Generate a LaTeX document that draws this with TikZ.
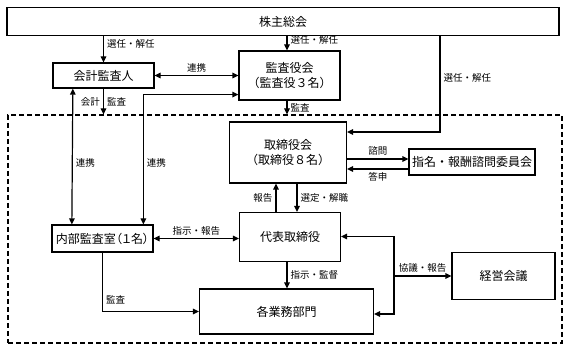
\documentclass[tikz,border=0pt]{standalone}
\usepackage{fontspec}
\setmainfont{Noto Sans CJK JP}
\newfontfamily\propjp[RawFeature=+palt]{Noto Sans CJK JP}
\usepackage{tikz}
\usetikzlibrary{arrows.meta,positioning,calc}
\tikzset{
  orgbox/.style={draw, line width=1.2pt, font=\fontsize{12}{14.5}\selectfont, align=center, inner sep=2pt},
  thinarrow/.style={-{Triangle[length=6pt,width=5.5pt]}, line width=1.2pt},
  twoarrow/.style={{Triangle[length=6pt,width=5.5pt]}-{Triangle[length=6pt,width=5.5pt]}, line width=1.2pt},
  lbl/.style={font=\fontsize{9.5}{11}\selectfont, inner sep=3pt},
  groupframe/.style={draw, dash pattern=on 5pt off 3pt, line width=1.2pt, inner sep=0pt},
}

\begin{document}
\begin{tikzpicture}[x=1pt, y=-1pt]
  \useasboundingbox (0,0) rectangle (568,350);
  \node[groupframe, minimum width=554pt, minimum height=228pt] (grp) at (285,229) {};

  \node[orgbox, minimum width=552pt, minimum height=28pt] (soukai) at (283,21.5) {株主総会};
  \node[orgbox, minimum width=101pt, minimum height=25pt] (kaikei) at (103.5,75.5) {会計監査人};
  \node[orgbox, minimum width=101pt, minimum height=49pt] (kansayaku) at (289.5,75.5) {監査役会\\（監査役３名）};
  \node[orgbox, minimum width=117pt, minimum height=61pt] (torishimari) at (288,152.5) {取締役会\\（取締役８名）};
  \node[orgbox, minimum width=126pt, minimum height=26pt] (shimei) at (472,162) {指名・報酬諮問委員会};
  \node[orgbox, minimum width=101pt, minimum height=49pt] (daihyo) at (290,237) {代表取締役};
  \node[orgbox, minimum width=101pt, minimum height=27pt] (naibu) at (102.5,238.5) {\propjp 内部監査室（１名）};
  \node[orgbox, minimum width=174pt, minimum height=45pt] (gyomu) at (286.5,311.5) {各業務部門};
  \node[orgbox, minimum width=103pt, minimum height=47pt] (keiei) at (503.5,276) {経営会議};

  \coordinate (senp) at (440,132);
  \coordinate (kyogi) at (394,276);

  \draw[thinarrow] (soukai.south -| kaikei) -- node[lbl, right, pos=0.3] {選任・解任} (kaikei.north);
  \draw[thinarrow] ([xshift=-2.5pt]kansayaku.north |- soukai.south) -- node[lbl, right, pos=0.3] {選任・解任} ([xshift=-2.5pt]kansayaku.north);
  \draw[thinarrow] (soukai.south -| senp) |- node[lbl, right, pos=0.22] {選任・解任} (torishimari.east |- senp);

  \draw[twoarrow] (kaikei.east) -- node[lbl, above] {連携} (kaikei.east -| kansayaku.west);
  \draw[thinarrow] (kaikei.south) -- node[lbl, left] {会計} node[lbl, right] {監査} (kaikei.south |- grp.north);
  \draw[thinarrow] ([xshift=-2.5pt]kansayaku.south) -- node[lbl, right] {監査} ([xshift=-2.5pt]kansayaku.south |- grp.north);

  \draw[twoarrow] ($(kaikei.south west)!0.2!(kaikei.south east)$) -- node[lbl, right, pos=0.55] {連携} ($(naibu.north west)!0.2!(naibu.north east)$);
  \draw[twoarrow] ($(naibu.north west)!0.9!(naibu.north east)$) |- node[lbl, right, pos=0.235] {連携} ([yshift=6pt]kansayaku.south west);

  \draw[thinarrow] ([yshift=-6.5pt]torishimari.east) -- node[lbl, above] {諮問} ([yshift=-6.5pt]torishimari.east -| shimei.west);
  \draw[thinarrow] ([yshift=-16.5pt]torishimari.east -| shimei.west) -- node[lbl, below] {答申} ([yshift=-16.5pt]torishimari.east);

  \draw[thinarrow] ([xshift=-14pt]daihyo.north) -- node[lbl, left] {報告} ([xshift=-14pt]daihyo.north |- torishimari.south);
  \draw[thinarrow] ([xshift=7pt]daihyo.north |- torishimari.south) -- node[lbl, right] {選定・解職} ([xshift=7pt]daihyo.north);

  \draw[twoarrow] (naibu.east) -- node[lbl, above] {指示・報告} (naibu.east -| daihyo.west);
  \draw[thinarrow] (naibu.south) |- node[lbl, right, pos=0.4] {監査} (gyomu.west);
  \draw[thinarrow] ([xshift=-3pt]daihyo.south) -- node[lbl, right] {指示・監督} ([xshift=-3pt]daihyo.south |- gyomu.north);

  \draw[twoarrow] ([yshift=0.5pt]daihyo.east) -| (kyogi) |- ([yshift=-2.5pt]gyomu.east);
  \draw[thinarrow] (kyogi) -- node[lbl, above] {協議・報告} (kyogi -| keiei.west);
\end{tikzpicture}
\end{document}
